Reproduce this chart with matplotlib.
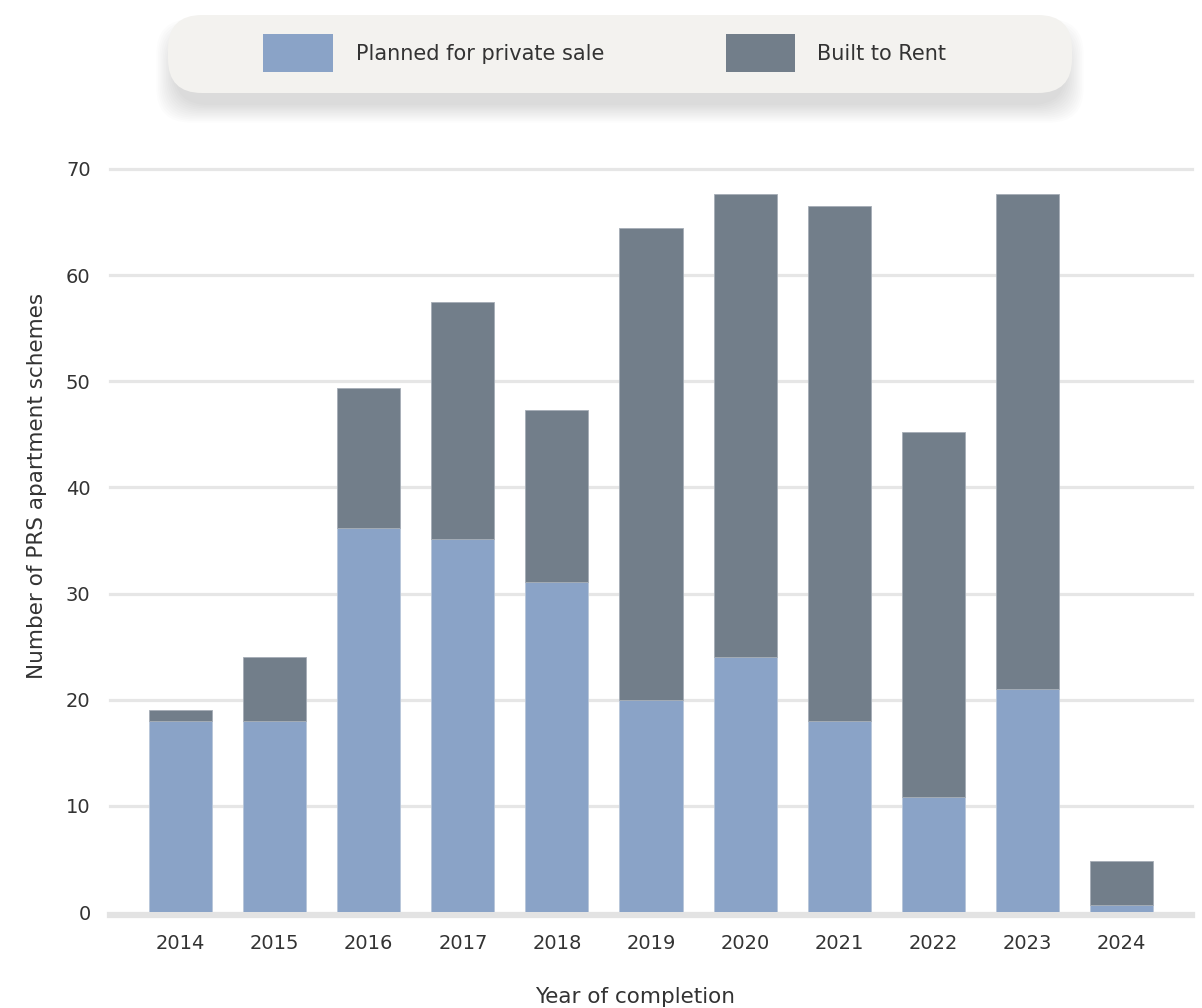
import matplotlib
matplotlib.use("Agg")
from matplotlib import pyplot as plt
from matplotlib.patches import FancyBboxPatch, Rectangle

years = ['2014', '2015', '2016', '2017', '2018', '2019', '2020', '2021', '2022', '2023', '2024']
private_sale = [18, 18, 36.2, 35.1, 31.1, 20, 24, 18, 10.8, 21, 0.7]
built_to_rent = [1, 6, 13.2, 22.4, 16.2, 44.4, 43.6, 48.5, 34.4, 46.6, 4.1]
y_ticks = [0, 10, 20, 30, 40, 50, 60, 70]

blue = '#8aa3c7'
slate = '#727e8a'
grid_col = '#e6e6e6'
text_col = '#333333'

plt.rcParams['font.family'] = ['DejaVu Sans']

W, H = 1202, 1008
fig = plt.figure(figsize=(W / 100, H / 100), dpi=100)
ax = fig.add_axes([110 / W, 1 - 912 / H, (1192 - 110) / W, (912 - 169) / H])

x = list(range(len(years)))
ax.bar(x, private_sale, width=0.67, color=blue, edgecolor='#b8c6d9', linewidth=0.6, zorder=3)
ax.bar(x, built_to_rent, bottom=private_sale, width=0.67, color=slate,
       edgecolor='#a5adb6', linewidth=0.6, zorder=3)

# grid lines drawn by hand so the top one is not clipped
for t in y_ticks[1:]:
    ax.axhline(t, color=grid_col, linewidth=2.3, zorder=1, clip_on=False)
ax.axhline(-0.3, color='#e3e3e3', linewidth=4.5, zorder=1, clip_on=False)

ax.set_xlim(-0.75, 10.75)
ax.set_ylim(0, 70)
ax.set_xticks(x)
ax.set_xticklabels(years)
ax.set_yticks(y_ticks)
ax.tick_params(axis='both', length=0, labelsize=14, labelcolor=text_col)
ax.tick_params(axis='y', pad=14)
ax.tick_params(axis='x', pad=16)
for s in ax.spines.values():
    s.set_visible(False)

fig.text(37 / W, 1 - 486 / H, 'Number of PRS apartment schemes', rotation=90,
         ha='center', va='center', fontsize=15.5, color=text_col)
fig.text(635 / W, 1 - 997 / H, 'Year of completion', ha='center', va='center',
         fontsize=15.5, color=text_col)

# legend box with soft shadow, positioned in pixels
def px(xp, yp):
    return xp / 100, (H - yp) / 100

tr = fig.dpi_scale_trans
bx0, by0, bx1, by1 = 168, 15, 1072, 93
for i in range(12):
    g = 1.6 * i
    sx, sy = px(bx0 + 6 - g, by1 + 12 + g)
    shadow = FancyBboxPatch((sx, sy), (bx1 - bx0 - 12 + 2 * g) / 100, (by1 - by0 + 2 * g) / 100 - 0.1,
                            boxstyle='round,pad=0,rounding_size=0.34',
                            transform=tr, facecolor='#000000', edgecolor='none',
                            alpha=0.01, zorder=0)
    fig.patches.append(shadow)
lx, ly = px(bx0, by1)
box = FancyBboxPatch((lx, ly), (bx1 - bx0) / 100, (by1 - by0) / 100,
                     boxstyle='round,pad=0,rounding_size=0.34',
                     transform=tr, facecolor='#f3f2ef', edgecolor='none', zorder=1)
fig.patches.append(box)

legend_items = [('Planned for private sale', blue, 263, 333, 356),
                ('Built to Rent', slate, 726, 795, 817)]
for label, col, p0, p1, tx in legend_items:
    rx, ry = px(p0, 72)
    fig.patches.append(Rectangle((rx, ry), (p1 - p0) / 100, 0.38, transform=tr,
                                 facecolor=col, edgecolor='none', zorder=2))
    fig.text(tx / W, 1 - 54 / H, label, ha='left', va='center', fontsize=15, color=text_col)

fig.savefig('out.png', dpi=100)
